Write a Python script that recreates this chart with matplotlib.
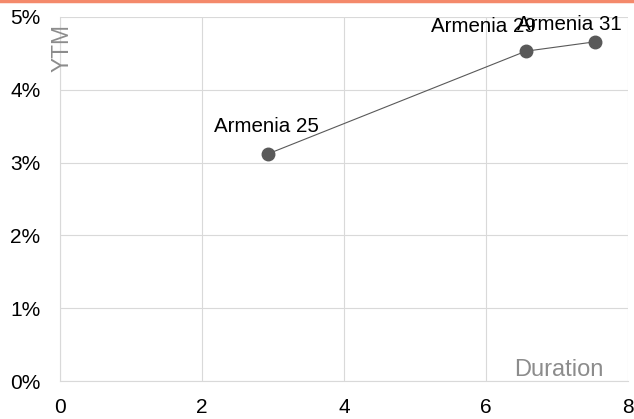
import matplotlib.pyplot as plt
from matplotlib.ticker import FuncFormatter

plt.rcParams['font.family'] = ['Liberation Sans', 'DejaVu Sans']

bonds = ['Armenia 25', 'Armenia 29', 'Armenia 31']
duration = [2.93, 6.56, 7.54]
ytm = [3.12, 4.53, 4.66]
label_offsets = [(-1.5, 16), (-30.5, 13.5), (-18.4, 8.5)]

fig = plt.figure(figsize=(6.34, 4.19), dpi=100)
ax = fig.add_axes([60 / 634, 1 - 381 / 419, 568 / 634, 364 / 419])

ax.plot(duration, ytm, color='#595959', lw=0.8, marker='o', ms=9,
        markerfacecolor='#595959', markeredgecolor='#595959', zorder=3)

# point labels sit above each marker (baseline-anchored)
for name, x, y, (dx, dy) in zip(bonds, duration, ytm, label_offsets):
    ax.annotate(name, (x, y), xytext=(dx, dy), textcoords='offset points',
                ha='center', va='baseline', fontsize=14.8, color='black')

ax.set_xlim(0, 8)
ax.set_ylim(0, 5)
ax.set_xticks([0, 2, 4, 6, 8])
ax.set_yticks([0, 1, 2, 3, 4, 5])
ax.yaxis.set_major_formatter(FuncFormatter(lambda v, p: f'{v:.0f}%'))
ax.tick_params(length=0, labelsize=15, colors='black')
ax.tick_params(axis='x', pad=12)
ax.tick_params(axis='y', pad=14)
ax.grid(True, color='#d9d9d9', lw=0.8)
ax.set_axisbelow(True)
for side in ['top', 'right']:
    ax.spines[side].set_visible(False)
ax.spines['bottom'].set_color('#d9d9d9')
ax.spines['left'].set_color('#d9d9d9')
ax.spines['left'].set_linewidth(0.8)

ax.text(0.03, 4.9, 'YTM', rotation=90, ha='center', va='top',
        fontsize=16.4, color='#8c8c8c')
ax.text(7.65, 0.0, 'Duration', ha='right', va='bottom',
        fontsize=17, color='#8c8c8c')

fig.add_artist(plt.Line2D([0, 1], [1 - 1 / 419, 1 - 1 / 419],
                          color='#f4896b', lw=2.5, transform=fig.transFigure))

fig.savefig('out.png', dpi=100)
